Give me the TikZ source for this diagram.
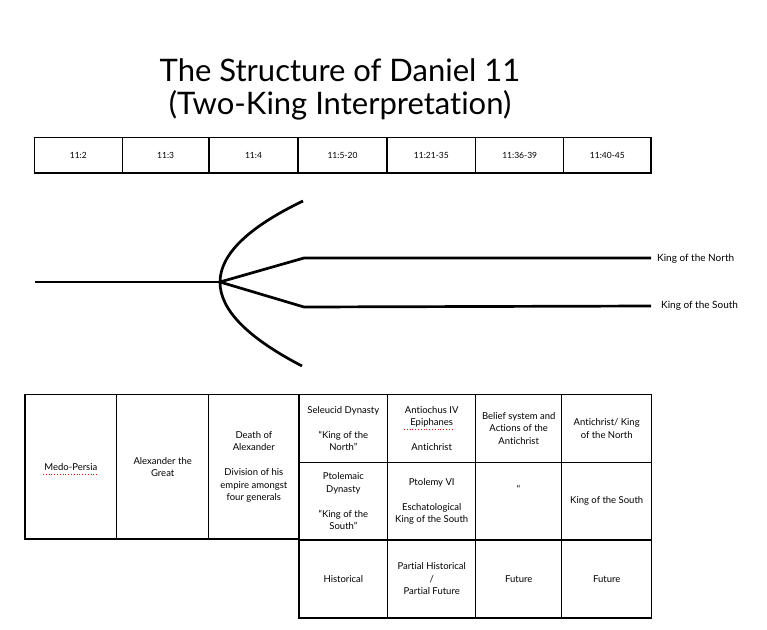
\documentclass[tikz,border=0pt]{standalone}
\usepackage{fontspec}
\setmainfont{Lato}[Ligatures={NoCommon}]
\tikzset{
  cell/.style={draw, line width=1.2pt, inner sep=0pt, align=center, font=\fontsize{9.5}{12.5}\selectfont},
  hdr/.style={cell, font=\fontsize{8.5}{10}\selectfont},
  branch/.style={line width=2.7pt},
  lbl/.style={font=\fontsize{10}{12}\selectfont, anchor=west, inner sep=0pt},
  spell/.style={red, dotted, line width=0.8pt},
}
\newcommand\DCell[7][cell]{\node[#1, minimum width={(#5-#3)*1pt}, minimum height={(#6-#4)*1pt}] (#2) at ({(#3+#5)/2},{(#4+#6)/2}) {#7};}
\begin{document}
\begin{tikzpicture}[x=1pt, y=-1pt]
\useasboundingbox (0,0) rectangle (767,629);
% title
\node[align=center, font=\fontsize{31}{33}\selectfont] (title) at (340,89) {The Structure of Daniel 11\\(Two-King Interpretation)};
% header row
\DCell[hdr]{h1}{34.3}{137.5}{122.3}{173}{11:2}
\DCell[hdr]{h2}{122.3}{137.5}{209}{173}{11:3}
\DCell[hdr]{h3}{209}{137.5}{298}{173}{11:4}
\DCell[hdr]{h4}{298}{137.5}{387}{173}{11:5-20}
\DCell[hdr]{h5}{387}{137.5}{475.7}{173}{11:21-35}
\DCell[hdr]{h6}{475.7}{137.5}{563.7}{173}{11:36-39}
\DCell[hdr]{h7}{563.7}{137.5}{651}{173}{11:40-45}
% branching lines
\coordinate (start) at (35,282);
\coordinate (fork) at (220,282);
\coordinate (nbend) at (304,258);
\coordinate (sbend) at (304,307);
\coordinate (nend) at (651,258);
\coordinate (send) at (651,306);
\coordinate (ctop) at (303,201);
\coordinate (cbot) at (302,366);
\draw[branch] (start) -- (fork);
\draw[branch] (fork) -- (nbend) -- (nend);
\draw[branch] (fork) -- (sbend) -- (send);
\draw[branch] (ctop) .. controls (192.7,254) and (192.3,309) .. (cbot);
\node[lbl] (north) at (657,259) {King of the North};
\node[lbl] (south) at (661,306) {King of the South};
% bottom left table
\DCell{b1}{25}{394.7}{116.7}{539}{Medo-Persia}
\DCell{b2}{116.7}{394.7}{208.7}{539}{Alexander the\\Great}
\DCell{b3}{208.7}{394.7}{299}{539}{Death of\\Alexander\\[12.5pt]Division of his\\empire amongst\\four generals}
% bottom right table
\DCell{r11}{299}{394.7}{387.7}{462.3}{Seleucid Dynasty\\[12.5pt]“King of the\\North”}
\DCell{r12}{387.7}{394.7}{475.7}{462.3}{Antiochus IV\\Epiphanes\\[12.5pt]Antichrist}
\DCell{r13}{475.7}{394.7}{561.7}{462.3}{Belief system and\\Actions of the\\Antichrist}
\DCell{r14}{561.7}{394.7}{651.7}{462.3}{Antichrist/ King\\of the North}
\DCell{r21}{299}{462.3}{387.7}{540}{Ptolemaic\\Dynasty\\[12.5pt]“King of the\\South”}
\DCell{r22}{387.7}{462.3}{475.7}{540}{Ptolemy VI\\[12.5pt]Eschatological\\King of the South}
\DCell{r23}{475.7}{462.3}{561.7}{540}{“\\[12pt]}
\DCell{r24}{561.7}{462.3}{651.7}{540}{King of the South}
\DCell{r31}{299}{540}{387.7}{618}{Historical}
\DCell{r32}{387.7}{540}{475.7}{618}{Partial Historical\\/\\Partial Future}
\DCell{r33}{475.7}{540}{561.7}{618}{Future}
\DCell{r34}{561.7}{540}{651.7}{618}{Future}
% spell-check underlines
\draw[spell] (43,474) -- (97,474);
\draw[spell] (404,429) -- (452,429);
\end{tikzpicture}
\end{document}
